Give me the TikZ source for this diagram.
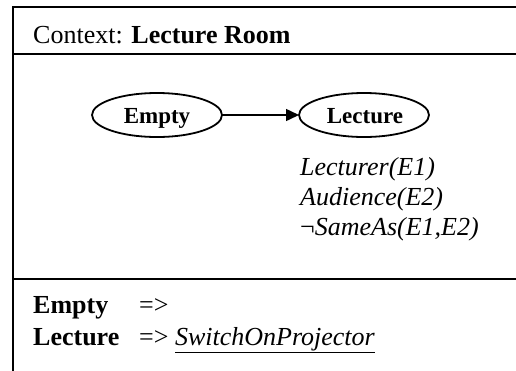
\documentclass[tikz,border=0pt]{standalone}
\usepackage{fontspec}
\setmainfont{Liberation Serif}
\usetikzlibrary{shapes.geometric,arrows.meta}
\begin{document}
\begin{tikzpicture}[x=1pt,y=-1pt,
  every node/.style={font=\fontsize{26}{30}\selectfont, inner sep=0pt},
  frameline/.style={line width=2pt, line cap=rect},
  state/.style={draw, ellipse, line width=1.8pt, minimum width=130pt, minimum height=44pt, inner sep=0pt, outer sep=0pt},
  statelabel/.style={anchor=base, font=\fontsize{23}{27}\selectfont\bfseries},
  txt/.style={anchor=base west},
  arr/.style={line width=1.5pt, -{Triangle[length=13pt,width=12pt]}}]
\useasboundingbox (0,0) rectangle (516,370);
% frame
\coordinate (tl) at (12.5,6.5);
\coordinate (tr) at (516,6.5);
\coordinate (bl) at (12.5,370);
\coordinate (d1l) at (12.5,53.5);
\coordinate (d1r) at (516,53.5);
\coordinate (d2l) at (12.5,279);
\coordinate (d2r) at (516,279);
\draw[frameline] (tr) -- (tl) -- (bl);
\draw[frameline] (d1l) -- (d1r);
\draw[frameline] (d2l) -- (d2r);
% title
\node[txt] (title) at (33,43) {Context: \textbf{Lecture Room}};
% states
\node[state] (empty) at (157,115) {};
\node[statelabel] (emptyl) at (157,123) {Empty};
\node[state] (lecture) at (364,115) {};
\node[statelabel] (lecturel) at (365,123) {Lecture};
\draw[arr] (empty) -- (lecture);
% conditions
\node[txt] (c1) at (300,175) {\itshape Lecturer(E1)};
\node[txt] (c2) at (300,205) {\itshape Audience(E2)};
\node[txt] (c3) at (300,235) {¬\itshape SameAs(E1,E2)};
% actions
\node[txt] (a1) at (33,313) {\textbf{Empty}};
\node[txt] (a1r) at (139,313) {=>};
\node[txt] (a2) at (33,345) {\textbf{Lecture}};
\node[txt] (a2r) at (139,345) {=> \underline{\itshape SwitchOnProjector}};
\end{tikzpicture}
\end{document}
